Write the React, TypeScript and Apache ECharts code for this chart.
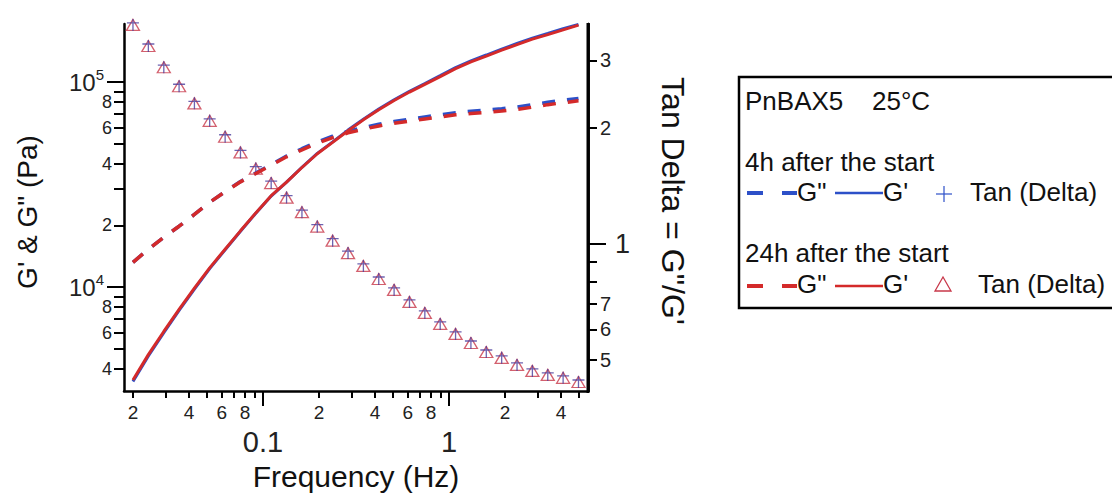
import React, { useEffect, useRef } from 'react';
import * as echarts from 'echarts';

// ---------- data ----------
const freq = [0.02, 0.0242, 0.0293, 0.0354, 0.0428, 0.0517, 0.0626, 0.0757, 0.0915, 0.1107,
  0.1339, 0.162, 0.1959, 0.2369, 0.2866, 0.3466, 0.4192, 0.507, 0.6133, 0.7417,
  0.8971, 1.085, 1.312, 1.587, 1.92, 2.322, 2.808, 3.397, 4.108, 4.969];

const gPrime4h = [3460, 4610, 5990, 7690, 9780, 12300, 15200, 18700, 22900, 27800,
  32500, 38400, 44900, 51100, 58300, 65900, 73900, 82000, 90200, 98400,
  107500, 117600, 126900, 135500, 144900, 154300, 163900, 172600, 182000, 191000];
const gDouble4h = [13200, 15300, 17500, 19800, 22600, 25900, 29200, 32700, 36000, 39600,
  43600, 47300, 51000, 54400, 57500, 60000, 62300, 64200, 65900, 67600,
  69200, 70900, 72100, 73000, 74200, 75500, 77500, 79700, 81500, 83200];
const tanDelta4h = [3.71, 3.27, 2.88, 2.57, 2.32, 2.09, 1.9, 1.73, 1.57, 1.44,
  1.32, 1.21, 1.11, 1.02, 0.947, 0.877, 0.811, 0.76, 0.707, 0.662,
  0.62, 0.584, 0.553, 0.524, 0.506, 0.485, 0.468, 0.457, 0.449, 0.438];

const gPrime24h = [3520, 4680, 6070, 7780, 9870, 12400, 15300, 18800, 23000, 27900,
  32500, 38300, 44700, 50800, 57900, 65400, 73300, 81300, 89400, 97500,
  106400, 116300, 125500, 133900, 143100, 152400, 161900, 170500, 179800, 189500];
const gDouble24h = [13200, 15300, 17500, 19800, 22600, 25900, 29200, 32600, 35800, 39300,
  43200, 46700, 50300, 53600, 56500, 58900, 61100, 62900, 64500, 66100,
  67600, 69200, 70300, 71100, 72200, 73500, 75400, 77600, 79300, 81000];
const tanDelta24h = [3.71, 3.27, 2.88, 2.57, 2.32, 2.09, 1.9, 1.73, 1.57, 1.44,
  1.32, 1.21, 1.11, 1.02, 0.947, 0.877, 0.811, 0.76, 0.707, 0.662,
  0.62, 0.584, 0.553, 0.524, 0.506, 0.485, 0.468, 0.457, 0.449, 0.438];

// ---------- axis ticks / labels ----------
const xMinorTicks = [0.02, 0.03, 0.04, 0.05, 0.06, 0.07, 0.08, 0.09, 0.2, 0.3, 0.4, 0.5, 0.6, 0.7, 0.8, 0.9, 2, 3, 4, 5];
const xMinorLabels = [0.02, 0.04, 0.06, 0.08, 0.2, 0.4, 0.6, 0.8, 2, 4];
const xMajor = [0.1, 1];
const yLeftMinorTicks = [4000, 5000, 6000, 7000, 8000, 9000, 20000, 30000, 40000, 50000, 60000, 70000, 80000, 90000];
const yLeftMinorLabels = [4000, 6000, 8000, 20000, 40000, 60000, 80000];
const yLeftMajor = [10000, 100000];
const yRightMinorTicks = [0.5, 0.6, 0.7, 0.8, 0.9, 2, 3];
const yRightMinorLabels = [0.5, 0.6, 0.7, 2, 3];
const yRightMajor = [1];

const X_MIN = 0.0179, X_MAX = 5.59;
const YL_MIN = 3110, YL_MAX = 192000;
const YR_MIN = 0.415, YR_MAX = 3.73;

const BLUE = '#2d50c8';
const RED = '#d42a2a';
const FONT = 'Liberation Sans, Arial, sans-serif';

const leadDigit = (v: number) => String(Math.round(v / Math.pow(10, Math.floor(Math.log10(v) + 1e-9))));

export default function App() {
  const ref = useRef<HTMLDivElement>(null);
  useEffect(() => {
    if (!ref.current) return;
    const chart = echarts.init(ref.current, undefined, { renderer: 'svg' });
    const line = { color: '#000', width: 2.5 };
    const tick = { color: '#000', width: 2 };
    const lbl = { color: '#222', fontFamily: FONT };
    const pairs = (ys: number[]) => freq.map((f, i) => [f, ys[i]]);

    const option: any = {
      animation: false,
      grid: { left: 124, right: 524, top: 24, bottom: 103, containLabel: false },
      xAxis: [
        {
          type: 'log', logBase: 10, min: X_MIN, max: X_MAX, position: 'bottom',
          axisLine: { show: true, onZero: false, lineStyle: line },
          axisTick: { show: true, customValues: xMinorTicks, length: 7, lineStyle: tick },
          axisLabel: { customValues: xMinorLabels, formatter: (v: number) => leadDigit(v), fontSize: 19, margin: 12, ...lbl },
          splitLine: { show: false }, minorTick: { show: false },
        },
        {
          type: 'log', logBase: 10, min: X_MIN, max: X_MAX, position: 'bottom',
          axisLine: { show: false, onZero: false },
          axisTick: { show: true, customValues: xMajor, length: 15, lineStyle: tick },
          axisLabel: { customValues: xMajor, formatter: (v: number) => (v < 0.5 ? '0.1' : '1'), fontSize: 29, margin: 36, ...lbl },
          splitLine: { show: false },
        },
      ],
      yAxis: [
        {
          type: 'log', logBase: 10, min: YL_MIN, max: YL_MAX, position: 'left',
          axisLine: { show: true, onZero: false, lineStyle: line },
          axisTick: { show: true, customValues: yLeftMinorTicks, length: 10, lineStyle: tick },
          axisLabel: { customValues: yLeftMinorLabels, formatter: (v: number) => leadDigit(v), fontSize: 18, margin: 12, ...lbl },
          splitLine: { show: false },
        },
        {
          type: 'log', logBase: 10, min: YR_MIN, max: YR_MAX, position: 'right',
          axisLine: { show: true, onZero: false, lineStyle: line },
          axisTick: { show: true, customValues: yRightMinorTicks, length: 9, lineStyle: tick },
          axisLabel: { customValues: yRightMinorLabels, formatter: (v: number) => leadDigit(v), fontSize: 20, margin: 12, ...lbl },
          splitLine: { show: false },
        },
        {
          type: 'log', logBase: 10, min: YL_MIN, max: YL_MAX, position: 'left',
          axisLine: { show: false, onZero: false },
          axisTick: { show: true, customValues: yLeftMajor, length: 17, lineStyle: tick },
          axisLabel: {
            customValues: yLeftMajor,
            formatter: (v: number) => '{b|10}{s|' + Math.round(Math.log10(v)) + '}',
            margin: 20, ...lbl,
            rich: {
              b: { fontSize: 24, fontFamily: FONT, color: '#222', lineHeight: 30 },
              s: { fontSize: 15, fontFamily: FONT, color: '#222', verticalAlign: 'top', lineHeight: 30, padding: [0, 0, 14, 0] },
            },
          },
          splitLine: { show: false },
        },
        {
          type: 'log', logBase: 10, min: YR_MIN, max: YR_MAX, position: 'right',
          axisLine: { show: true, onZero: false, lineStyle: line },
          axisTick: { show: true, customValues: yRightMajor, length: 18, lineStyle: tick },
          axisLabel: { customValues: yRightMajor, formatter: () => '1', fontSize: 27, margin: 27, ...lbl },
          splitLine: { show: false },
        },
      ],
      series: [
        { type: 'line', name: 'G" 4h', data: pairs(gDouble4h), xAxisIndex: 0, yAxisIndex: 0, symbol: 'none', lineStyle: { color: BLUE, width: 3.5, type: [13, 12] } },
        { type: 'line', name: "G' 4h", data: pairs(gPrime4h), xAxisIndex: 0, yAxisIndex: 0, symbol: 'none', lineStyle: { color: BLUE, width: 3 } },
        { type: 'line', name: 'G" 24h', data: pairs(gDouble24h), xAxisIndex: 0, yAxisIndex: 0, symbol: 'none', lineStyle: { color: RED, width: 3.5, type: [13, 12] } },
        { type: 'line', name: "G' 24h", data: pairs(gPrime24h), xAxisIndex: 0, yAxisIndex: 0, symbol: 'none', lineStyle: { color: RED, width: 3 } },
        {
          type: 'scatter', name: 'Tan 24h', data: pairs(tanDelta24h), xAxisIndex: 0, yAxisIndex: 1,
          symbol: 'triangle', symbolSize: [13, 11],
          itemStyle: { color: 'rgba(255,255,255,0)', borderColor: '#c8384a', borderWidth: 1.3 },
        },
        {
          type: 'scatter', name: 'Tan 4h', data: pairs(tanDelta4h), xAxisIndex: 0, yAxisIndex: 1,
          symbol: 'path://M6 0L6 12M0 4L12 4', symbolSize: [12, 12],
          itemStyle: { color: 'rgba(255,255,255,0)', borderColor: '#4a3c9c', borderWidth: 1.3 },
        },
      ],
      graphic: [
        // right-hand frame line of the plot
        { type: 'rect', z: 100, shape: { x: 586.5, y: 23, width: 3, height: 370 }, style: { fill: '#000' } },
        { type: 'text', x: 27, y: 212, rotation: Math.PI / 2, style: { text: 'G\' & G" (Pa)', fontSize: 28, fontFamily: FONT, fill: '#111', align: 'center', verticalAlign: 'middle' } },
        { type: 'text', x: 673, y: 201, rotation: -Math.PI / 2, style: { text: 'Tan Delta = G"/G\'', fontSize: 32, fontFamily: FONT, fill: '#111', align: 'center', verticalAlign: 'middle' } },
        { type: 'text', x: 356, y: 476, style: { text: 'Frequency (Hz)', fontSize: 30, fontFamily: FONT, fill: '#111', align: 'center', verticalAlign: 'middle' } },
        // legend box
        { type: 'rect', shape: { x: 739, y: 77, width: 400, height: 231 }, style: { fill: '#fff', stroke: '#000', lineWidth: 2.5 } },
        { type: 'text', x: 745, y: 101, style: { text: 'PnBAX5', fontSize: 26, fontFamily: FONT, fill: '#111', verticalAlign: 'middle' } },
        { type: 'text', x: 872, y: 101, style: { text: '25°C', fontSize: 26, fontFamily: FONT, fill: '#111', verticalAlign: 'middle' } },
        { type: 'text', x: 745, y: 162, style: { text: '4h after the start', fontSize: 26, fontFamily: FONT, fill: '#111', verticalAlign: 'middle' } },
        { type: 'line', shape: { x1: 747, y1: 193, x2: 763, y2: 193 }, style: { stroke: BLUE, lineWidth: 4 } },
        { type: 'line', shape: { x1: 782, y1: 193, x2: 797, y2: 193 }, style: { stroke: BLUE, lineWidth: 4 } },
        { type: 'text', x: 797, y: 192, style: { text: 'G"', fontSize: 26, fontFamily: FONT, fill: '#111', verticalAlign: 'middle' } },
        { type: 'line', shape: { x1: 835, y1: 193, x2: 883, y2: 193 }, style: { stroke: BLUE, lineWidth: 2.5 } },
        { type: 'text', x: 883, y: 192, style: { text: "G'", fontSize: 26, fontFamily: FONT, fill: '#111', verticalAlign: 'middle' } },
        { type: 'line', shape: { x1: 944, y1: 186, x2: 944, y2: 202 }, style: { stroke: BLUE, lineWidth: 1.2 } },
        { type: 'line', shape: { x1: 936, y1: 194, x2: 952, y2: 194 }, style: { stroke: BLUE, lineWidth: 1.2 } },
        { type: 'text', x: 970, y: 192, style: { text: 'Tan (Delta)', fontSize: 26, fontFamily: FONT, fill: '#111', verticalAlign: 'middle' } },
        { type: 'text', x: 745, y: 253, style: { text: '24h after the start', fontSize: 26, fontFamily: FONT, fill: '#111', verticalAlign: 'middle' } },
        { type: 'line', shape: { x1: 747, y1: 286, x2: 763, y2: 286 }, style: { stroke: RED, lineWidth: 4 } },
        { type: 'line', shape: { x1: 782, y1: 286, x2: 797, y2: 286 }, style: { stroke: RED, lineWidth: 4 } },
        { type: 'text', x: 797, y: 284, style: { text: 'G"', fontSize: 26, fontFamily: FONT, fill: '#111', verticalAlign: 'middle' } },
        { type: 'line', shape: { x1: 835, y1: 286, x2: 883, y2: 286 }, style: { stroke: RED, lineWidth: 2.5 } },
        { type: 'text', x: 883, y: 284, style: { text: "G'", fontSize: 26, fontFamily: FONT, fill: '#111', verticalAlign: 'middle' } },
        { type: 'polygon', shape: { points: [[943, 277], [935, 291], [951, 291]] }, style: { fill: 'none', stroke: '#c8384a', lineWidth: 1.3 } },
        { type: 'text', x: 978, y: 284, style: { text: 'Tan (Delta)', fontSize: 26, fontFamily: FONT, fill: '#111', verticalAlign: 'middle' } },
      ],
    };
    chart.setOption(option);
    return () => chart.dispose();
  }, []);
  return <div ref={ref} style={{ position: 'absolute', left: 0, top: 0, width: 1112, height: 494 }} />;
}
